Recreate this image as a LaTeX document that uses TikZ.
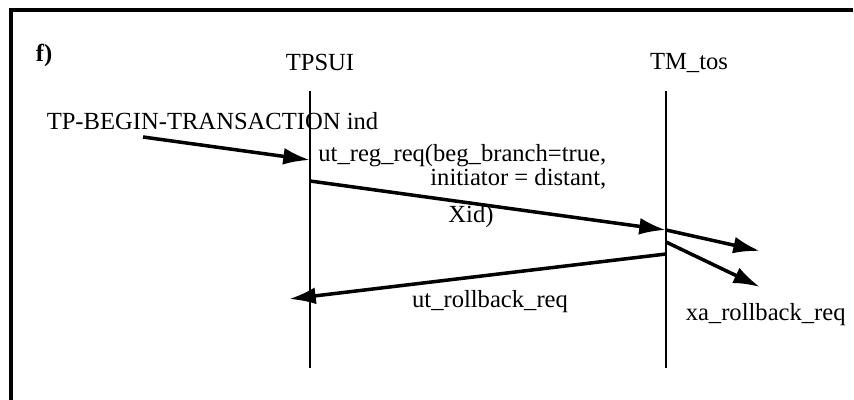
\documentclass[tikz,border=0pt]{standalone}
\usepackage{fontspec}
\setmainfont{Liberation Serif}
\usetikzlibrary{arrows.meta,positioning}

\begin{document}
\begin{tikzpicture}[x=0.025cm, y=-0.025cm, line width=2.5pt,
  lbl/.style={inner sep=0pt, font=\fontsize{17.5}{15.5}\selectfont},
  lifeline/.style={line width=2pt},
  msg/.style={-{Latex[length=19pt,width=12pt]}, line width=2.5pt}]
\useasboundingbox (0,0) rectangle (854,400);
% frame (top and left only)
\draw[line width=2.4pt] (853,10) -| (11,400);
\node[lbl, font=\fontsize{17.5}{15.5}\selectfont\bfseries] (fig) at (44,55) {f)};
% lifelines
\node[lbl] (tpsui) at (320,62) {TPSUI};
\node[lbl] (tmtos) at (689,63) {TM\_tos};
\coordinate (tpsuiTop) at (310,91);
\coordinate (tpsuiBot) at (310,368);
\coordinate (tmtosTop) at (666,91);
\coordinate (tmtosBot) at (666,368);
\draw[lifeline] (tpsuiTop) -- (tpsuiBot);
\draw[lifeline] (tmtosTop) -- (tmtosBot);
% messages
\coordinate (begin) at (143,137);
\coordinate (tpsui1) at (310,160);
\coordinate (tpsui2) at (310,181);
\coordinate (tmtos1) at (666,230);
\coordinate (tmtos2) at (666,242);
\coordinate (tmtos3) at (666,254);
\coordinate (tpsui3) at (289,299);
\coordinate (out1) at (760,251);
\coordinate (out2) at (760,287);
\node[lbl, anchor=west] (beginlbl) at (45,121) {TP-BEGIN-TRANSACTION ind};
\draw[msg] (begin) -- (tpsui1);
\draw[msg] (tpsui2) -- (tmtos1);
\node[lbl, anchor=east, align=right] (reglbl) at (608,167)
  {ut\_reg\_req(beg\_branch=true,\\initiator = distant,};
\node[lbl] (xid) at (471,217) {Xid)};
\draw[msg] (tmtos1) -- (out1);
\draw[msg] (tmtos2) -- (out2);
\draw[msg] (tmtos3) -- (tpsui3);
\node[lbl] (rblbl) at (490,302) {ut\_rollback\_req};
\node[lbl, anchor=west] (xalbl) at (684,315) {xa\_rollback\_req};
\end{tikzpicture}
\end{document}
